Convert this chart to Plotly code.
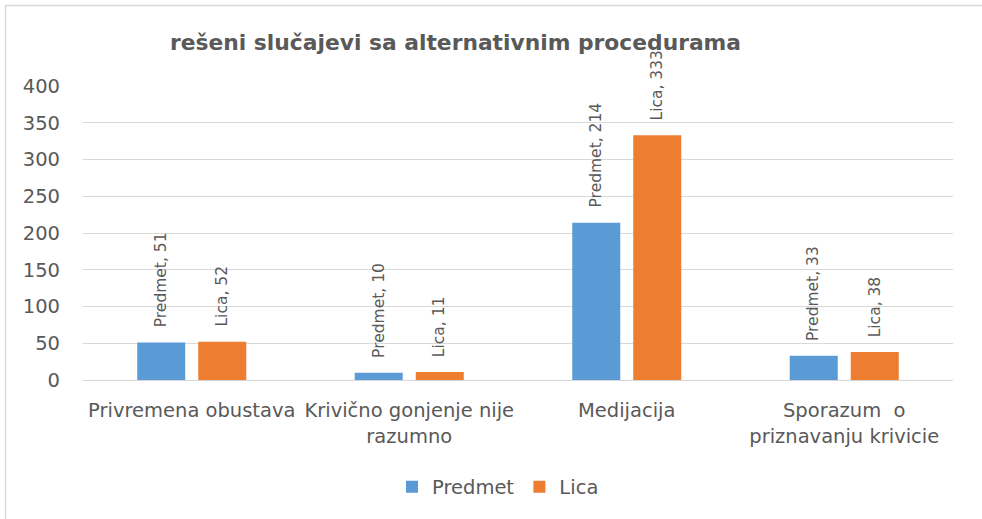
import plotly.graph_objects as go

categories = ["Privremena obustava", "Krivično gonjenje nije<br>razumno", "Medijacija", "Sporazum  o<br>priznavanju krivicie"]
predmet = [51, 10, 214, 33]
lica = [52, 11, 333, 38]
series_names = ["Predmet", "Lica"]
colors = ["#5B9BD5", "#ED7D31"]
title_text = "rešeni slučajevi sa alternativnim procedurama"
y_ticks = [0, 50, 100, 150, 200, 250, 300, 350, 400]

FONT = "DejaVu Sans, sans-serif"
LFONT = "DejaVu Sans, sans-serif"
TXT = "#595959"

# plot area in pixels
PL, PR, PT, PB = 83, 953, 86, 380
FW, FH = 982, 519
W = PR - PL
H = PB - PT


def px(x):
    return (x - PL) / W


def py(y):
    return (PB - y) / H


fig = go.Figure()
for name, vals, col in zip(series_names, [predmet, lica], colors):
    fig.add_trace(go.Bar(x=categories, y=vals, name=name, marker=dict(color=col, line=dict(width=0)),
                         cliponaxis=False))

slot = W / len(categories)
bargap = 0.439
bargroupgap = 0.213
group = slot * (1 - bargap)
off = group / 4

annotations = []
for i, c in enumerate(categories):
    for j, (name, vals) in enumerate(zip(series_names, [predmet, lica])):
        annotations.append(dict(
            x=c, y=vals[i], xref="x", yref="y", text=f"{name}, {vals[i]}",
            textangle=-90, showarrow=False, xanchor="center", yanchor="bottom",
            xshift=(-off if j == 0 else off), yshift=13,
            font=dict(family=LFONT, size=15.5, color=TXT)))
annotations.append(dict(x=px(455), y=py(43), xref="paper", yref="paper", text=f"<b>{title_text}</b>",
                        showarrow=False, xanchor="center", yanchor="middle",
                        font=dict(family=FONT, size=21.8, color=TXT)))

fig.update_layout(
    width=FW, height=FH,
    margin=dict(l=PL, r=FW - PR, t=PT, b=FH - PB),
    paper_bgcolor="white", plot_bgcolor="white",
    barmode="group", bargap=bargap, bargroupgap=bargroupgap,
    font=dict(family=FONT, size=19, color=TXT),
    xaxis=dict(showgrid=False, showline=True, linecolor="#D9D9D9", linewidth=1, ticks="",
               tickfont=dict(size=19.5, color=TXT), ticklabelstandoff=13),
    yaxis=dict(range=[0, 400], tickvals=y_ticks, showgrid=True, gridcolor="#D9D9D9", gridwidth=1,
               zeroline=False, showline=False, ticks="", tickfont=dict(size=19.5, color=TXT), ticklabelstandoff=22),
    legend=dict(orientation="h", x=px(498), xanchor="center", y=py(487), yanchor="middle",
                font=dict(size=19.5, color=TXT), itemwidth=30, traceorder="normal"),
    showlegend=True,
    annotations=annotations,
    shapes=[
        dict(type="line", xref="paper", yref="paper", x0=px(5), x1=px(990), y0=py(5.5), y1=py(5.5),
             line=dict(color="#D9D9D9", width=1.5), layer="below"),
        dict(type="line", xref="paper", yref="paper", x0=px(5.5), x1=px(5.5), y0=py(5), y1=py(530),
             line=dict(color="#D9D9D9", width=1.5), layer="below"),
    ],
)

fig.write_html("out.html", config={"displayModeBar": False},
               post_script="document.body.style.margin='0px';document.body.style.overflow='hidden';")
